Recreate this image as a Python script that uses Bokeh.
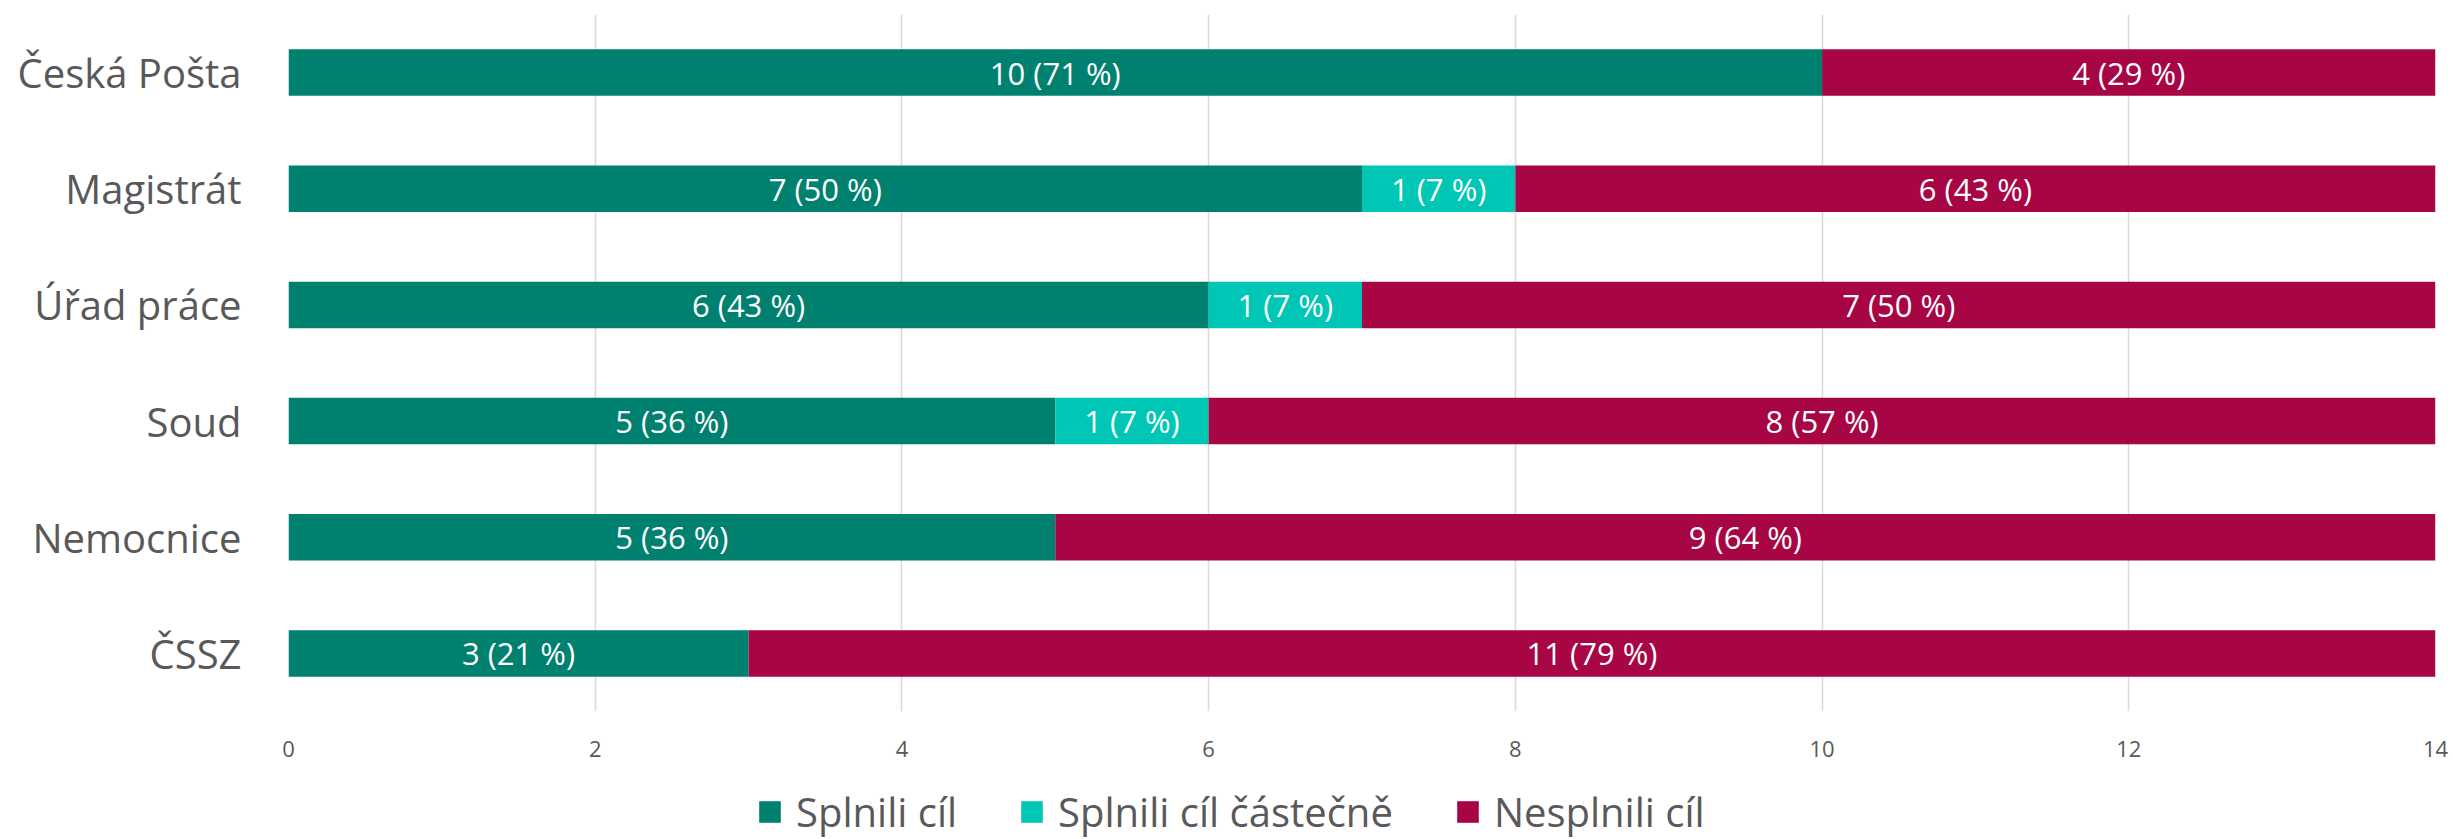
from bokeh.plotting import figure
from bokeh.layouts import column
from bokeh.models import (ColumnDataSource, FactorRange, Range1d, FixedTicker,
                          Legend, LegendItem)
from bokeh.core.properties import value
from bokeh.embed import file_html
from bokeh.resources import INLINE

# ---- data (top to bottom as in the chart) ----
categories = ["Česká Pošta", "Magistrát", "Úřad práce", "Soud", "Nemocnice", "ČSSZ"]
splnili = [10, 7, 6, 5, 5, 3]
castecne = [0, 1, 1, 1, 0, 0]
nesplnili = [4, 6, 7, 8, 9, 11]
pct_splnili = [71, 50, 43, 36, 36, 21]
pct_castecne = [0, 7, 7, 7, 0, 0]
pct_nesplnili = [29, 43, 50, 57, 64, 79]
series_names = ["Splnili cíl", "Splnili cíl částečně", "Nesplnili cíl"]
x_ticks = [0, 2, 4, 6, 8, 10, 12, 14]

colors = ["#00806F", "#00C6B5", "#A80545"]
FONT = "Open Sans"
GREY = "#595959"
W = 2453

src = ColumnDataSource(dict(cat=categories, s=splnili, c=castecne, n=nesplnili))

p = figure(width=W, height=775, output_backend="svg", toolbar_location=None,
           y_range=FactorRange(factors=list(reversed(categories)), range_padding=0),
           x_range=Range1d(0, 14),
           min_border_left=288, min_border_right=18, min_border_top=14,
           min_border_bottom=64)

rs = p.hbar_stack(["s", "c", "n"], y="cat", height=0.4, color=colors,
                  line_color=None, source=src)

# value labels
lx, ly, lt = [], [], []
for i, cat in enumerate(categories):
    vals = [splnili[i], castecne[i], nesplnili[i]]
    pcts = [pct_splnili[i], pct_castecne[i], pct_nesplnili[i]]
    left = 0
    for v, pc in zip(vals, pcts):
        if v > 0:
            lx.append(left + v / 2)
            ly.append(cat)
            lt.append(f"{v} ({pc} %)")
        left += v
p.text(x="x", y="y", text="t", source=ColumnDataSource(dict(x=lx, y=ly, t=lt)),
       text_align="center", text_baseline="middle", text_color="white",
       text_font=value(FONT), text_font_size="31px")

# axes
p.xaxis.ticker = FixedTicker(ticks=x_ticks)
p.xaxis.axis_line_color = None
p.xaxis.major_tick_line_color = None
p.xaxis.minor_tick_line_color = None
p.xaxis.major_tick_out = 0
p.xaxis.major_label_standoff = 29
p.xaxis.major_label_text_font = FONT
p.xaxis.major_label_text_font_size = "22px"
p.xaxis.major_label_text_color = GREY

p.yaxis.axis_line_color = None
p.yaxis.major_tick_line_color = None
p.yaxis.minor_tick_line_color = None
p.yaxis.major_tick_out = 0
p.yaxis.major_label_standoff = 47
p.yaxis.major_label_text_font = FONT
p.yaxis.major_label_text_font_size = "40px"
p.yaxis.major_label_text_color = GREY

p.ygrid.grid_line_color = None
p.xgrid.grid_line_color = "#D9D9D9"
p.xgrid.grid_line_width = 1.5
p.outline_line_color = None

# legend strip below the chart (frame aligned with the chart's frame)
lg = figure(width=W, height=64, output_backend="svg", toolbar_location=None,
            x_axis_location=None, y_axis_location=None,
            x_range=Range1d(0, 1), y_range=Range1d(0, 1),
            min_border_left=0, min_border_right=0, min_border_top=0,
            min_border_bottom=0)
lg.grid.grid_line_color = None
lg.outline_line_color = None
# zero-size swatch renderers that only feed the legend
swatches = [lg.rect(x=[0], y=[0], width=0, height=0, fill_color=c, line_color=None)
            for c in colors]
legend = Legend(items=[LegendItem(label=n, renderers=[r]) for n, r in zip(series_names, swatches)],
                orientation="horizontal", location=(468, 0),
                glyph_width=27, glyph_height=27, label_standoff=13, spacing=61,
                label_text_font=FONT, label_text_font_size="40px",
                label_text_color=GREY, border_line_color=None,
                background_fill_alpha=0, padding=0, margin=0)
lg.add_layout(legend, "center")

layout = column(p, lg, spacing=0)
open("out.html", "w").write(file_html(layout, INLINE))
